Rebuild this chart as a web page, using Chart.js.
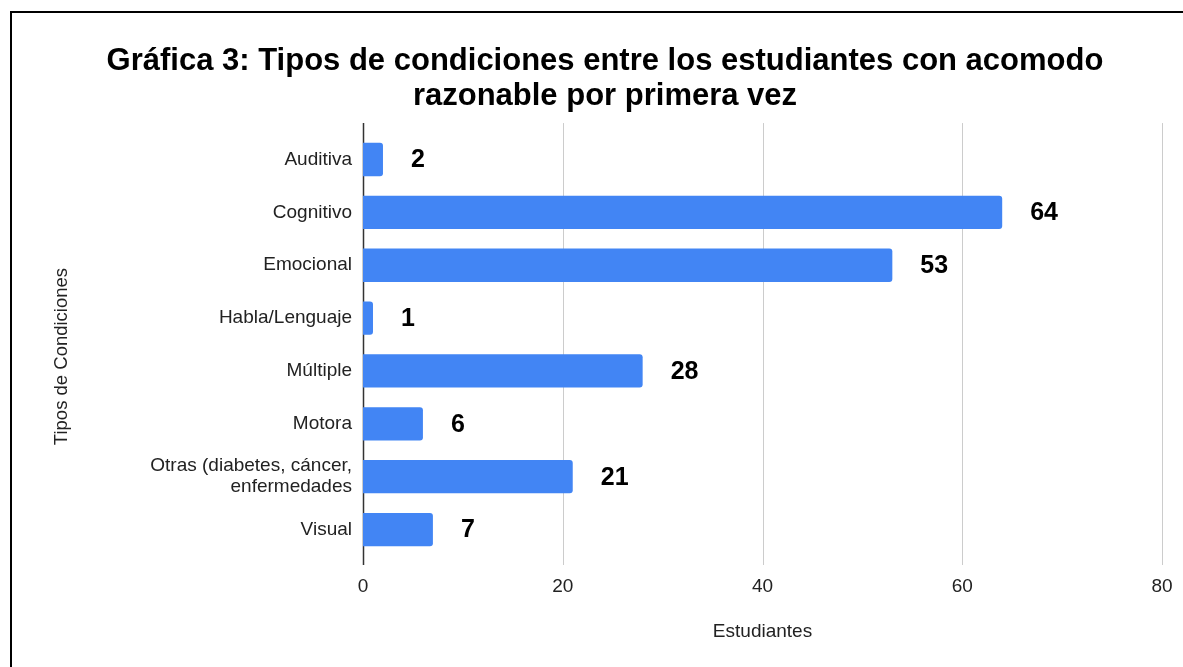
<!DOCTYPE html>
<html>
<head>
<meta charset="utf-8">
<script src="https://cdn.jsdelivr.net/npm/chart.js@4"></script>
<style>
  body { margin: 0; background: #fff; }
  #wrap { position: relative; width: 1183px; height: 667px; }
  #frame { position: absolute; left: 10px; top: 11px; right: -5px; bottom: -5px;
           border-top: 2px solid #000; border-left: 2px solid #000; pointer-events: none; }
</style>
</head>
<body>
<div id="wrap">
  <canvas id="condChart"></canvas>
  <div id="frame"></div>
</div>
<script>
const categories = ['Auditiva', 'Cognitivo', 'Emocional', 'Habla/Lenguaje', 'Múltiple',
                    'Motora', ['Otras (diabetes, cáncer,', 'enfermedades'], 'Visual'];
const students = [2, 64, 53, 1, 28, 6, 21, 7];
const xTicks = [0, 20, 40, 60, 80];

const FONT = "'Liberation Sans', Arial, sans-serif";

// grid lines stick out a little above and below the plot, like the original
const gridPlugin = {
    id: 'gridLines',
    beforeDatasetsDraw(chart) {
        const {ctx, chartArea, scales} = chart;
        ctx.save();
        scales.x.ticks.forEach(t => {
            const px = Math.round(scales.x.getPixelForValue(t.value)) + 0.5;
            ctx.strokeStyle = t.value === 0 ? '#333' : '#ccc';
            ctx.lineWidth = t.value === 0 ? 1.5 : 1;
            ctx.beginPath();
            ctx.moveTo(px, chartArea.top - 10);
            ctx.lineTo(px, chartArea.bottom + 9);
            ctx.stroke();
        });
        ctx.restore();
    }
};

// value labels right of each bar
const valuePlugin = {
    id: 'valueLabels',
    afterDatasetsDraw(chart) {
        const {ctx} = chart;
        const meta = chart.getDatasetMeta(0);
        ctx.save();
        ctx.font = 'bold 25px ' + FONT;
        ctx.fillStyle = '#000';
        ctx.textAlign = 'left';
        ctx.textBaseline = 'middle';
        meta.data.forEach((bar, i) => {
            ctx.fillText(String(students[i]), bar.x + 28, bar.y + 1);
        });
        ctx.restore();
    }
};

// rotated y axis title
const yTitlePlugin = {
    id: 'yTitle',
    afterDraw(chart) {
        const {ctx, chartArea} = chart;
        ctx.save();
        ctx.translate(62, (chartArea.top + chartArea.bottom) / 2 + 12);
        ctx.rotate(-Math.PI / 2);
        ctx.font = '18.5px ' + FONT;
        ctx.fillStyle = '#222';
        ctx.textAlign = 'center';
        ctx.textBaseline = 'middle';
        ctx.fillText('Tipos de Condiciones', 0, 0);
        ctx.restore();
    }
};

new Chart(document.getElementById('condChart'), {
    type: 'bar',
    data: {
        labels: categories,
        datasets: [{
            data: students,
            backgroundColor: '#4285f4',
            borderRadius: 3,
            barPercentage: 0.63,
            categoryPercentage: 1
        }]
    },
    options: {
        indexAxis: 'y',
        responsive: true,
        maintainAspectRatio: false,
        animation: false,
        layout: { padding: { left: 48, right: 21, top: 0, bottom: 0 } },
        plugins: {
            legend: { display: false },
            tooltip: { enabled: false },
            title: {
                display: true,
                text: ['Gráfica 3: Tipos de condiciones entre los estudiantes con acomodo',
                       'razonable por primera vez'],
                color: '#000',
                font: { family: FONT, size: 31, weight: 'bold', lineHeight: 1.13 },
                padding: { top: 44, bottom: 19 }
            }
        },
        scales: {
            x: {
                min: 0,
                max: 80,
                afterBuildTicks: s => { s.ticks = xTicks.map(v => ({ value: v })); },
                afterFit: s => { s.height = 111; s.paddingLeft = 0; s.paddingRight = 0; },
                grid: { display: false, drawTicks: false },
                border: { display: false },
                ticks: { color: '#222', padding: 19, font: { family: FONT, size: 19 } },
                title: {
                    display: true,
                    text: 'Estudiantes',
                    color: '#222',
                    font: { family: FONT, size: 19 },
                    padding: { top: 0, bottom: 24 }
                }
            },
            y: {
                afterFit: s => { s.width = 315; },
                grid: { display: false, drawTicks: false },
                border: { display: false },
                ticks: { color: '#222', padding: 11, font: { family: FONT, size: 19, lineHeight: 1.1 } }
            }
        }
    },
    plugins: [gridPlugin, valuePlugin, yTitlePlugin]
});
</script>
</body>
</html>
